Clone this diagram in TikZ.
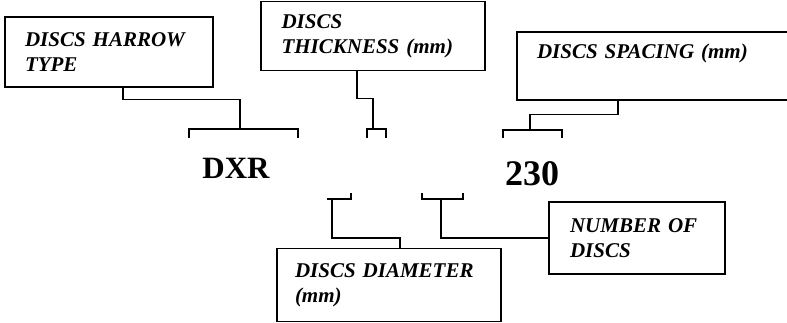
\documentclass[tikz,border=0pt]{standalone}
\usepackage{fontspec}
\setmainfont{Liberation Serif}
\usetikzlibrary{positioning,calc}

\begin{document}
\begin{tikzpicture}[x=1pt,y=-1pt,
	labelbox/.style={draw,line width=1.6pt,align=left,inner xsep=20pt,inner ysep=0pt,
		font=\fontsize{21}{25}\selectfont\bfseries\itshape},
	link/.style={line width=1.2pt},
	code/.style={font=\bfseries,anchor=base}]
			\useasboundingbox (0,0) rectangle (787,323);

			\node[labelbox,minimum width=208pt,minimum height=70pt,text width=168pt] (harrow) at (109,52) {DISCS HARROW\\TYPE};
			\node[labelbox,minimum width=224pt,minimum height=69pt,text width=183pt,inner xsep=20.5pt] (thick) at (373,36) {DISCS\\THICKNESS (mm)};
			\node[labelbox,minimum width=272pt,minimum height=68pt,text width=232pt] (spacing) at (653,66) {DISCS SPACING (mm)\\[-3pt]\strut};
			\node[labelbox,minimum width=224pt,minimum height=73pt,text width=188pt,inner xsep=18pt] (diam) at (389,285) {DISCS DIAMETER\\(mm)};
			\node[labelbox,minimum width=176pt,minimum height=72pt,text width=134pt,inner xsep=21pt] (count) at (637,238) {NUMBER OF\\DISCS};

			\node[code,font=\fontsize{31}{36}\selectfont\bfseries] (dxr) at (236,179) {DXR};
			\node[code,font=\fontsize{36}{42}\selectfont\bfseries] (size) at (532,186) {230};

			% brackets over and under the code
			\coordinate (tapA) at (240,129);
			\coordinate (tapB) at (373,129);
			\coordinate (tapC) at (530,130);
			\coordinate (tapD) at (332,199);
			\coordinate (tapE) at (441,199);
			\draw[link] (189,138) |- (298,129) -- (298,138);
			\draw[link] (367,138) |- (386,129) -- (386,138);
			\draw[link] (503,138) |- (562,130) -- (562,138);
			\draw[link] (327,199) -| (351,193);
			\draw[link] (422,193) |- (463,199) -- (463,193);

			\draw[link] ([xshift=14pt]harrow.south) -- ++(0,12) -| (tapA);
			\draw[link] ([xshift=-16pt]thick.south) -- ++(0,27) -| (tapB);
			\draw[link] ([xshift=-35pt]spacing.south) -- ++(0,14) -| (tapC);
			\draw[link] (tapD) -- ++(0,39) -| ([xshift=11pt]diam.north);
			\draw[link] (tapE) |- (count.west);
		\end{tikzpicture}
\end{document}
